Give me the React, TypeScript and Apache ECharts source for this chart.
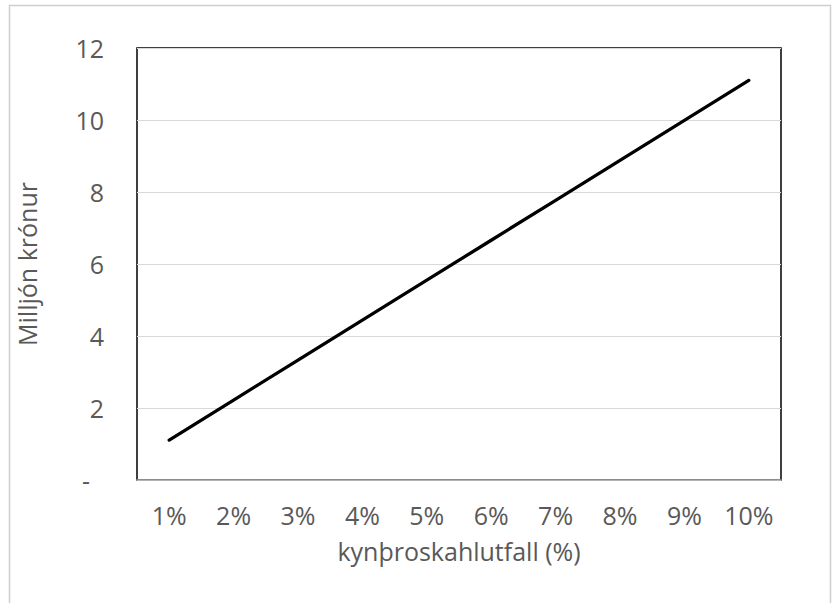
import React, { useEffect, useRef } from "react";
import * as echarts from "echarts";

const categories = ["1%", "2%", "3%", "4%", "5%", "6%", "7%", "8%", "9%", "10%"];
const values = [1.11, 2.22, 3.33, 4.44, 5.55, 6.66, 7.77, 8.88, 9.99, 11.1];
const xName = "kynþroskahlutfall (%)";
const yName = "Milljón krónur";

const FONT = "Open Sans";
const TEXT = "#595959";
const FS = 25;

export default function App() {
  const ref = useRef<HTMLDivElement>(null);
  useEffect(() => {
    if (!ref.current) return;
    const chart = echarts.init(ref.current, null, { renderer: "svg" });
    chart.setOption({
      animation: false,
      backgroundColor: "#ffffff",
      graphic: [
        {
          type: "rect",
          shape: { x: 9.5, y: 5.5, width: 821, height: 600 },
          style: { fill: "none", stroke: "#cfcfcf", lineWidth: 1.5 },
          silent: true,
        },
      ],
      grid: {
        left: 137,
        top: 48,
        right: 51,
        bottom: 123,
        show: true,
        borderColor: "#000000",
        borderWidth: 1.5,
        backgroundColor: "transparent",
      },
      xAxis: {
        type: "category",
        data: categories,
        boundaryGap: true,
        name: xName,
        nameLocation: "middle",
        nameGap: 58,
        nameTextStyle: { color: TEXT, fontFamily: FONT, fontSize: FS },
        axisLine: { show: true, lineStyle: { color: "#a6a6a6", width: 1.5 } },
        axisTick: { show: false },
        axisLabel: { color: TEXT, fontFamily: FONT, fontSize: FS, margin: 22 },
        splitLine: { show: false },
      },
      yAxis: {
        type: "value",
        min: 0,
        max: 12,
        interval: 2,
        name: yName,
        nameLocation: "middle",
        nameGap: 98,
        nameTextStyle: { color: TEXT, fontFamily: FONT, fontSize: FS },
        axisLine: { show: false },
        axisTick: { show: false },
        axisLabel: {
          color: TEXT,
          fontFamily: FONT,
          fontSize: FS,
          margin: 33,
          formatter: (v: number) => (v === 0 ? "{d|-}" : String(v)),
          rich: {
            d: { color: TEXT, fontFamily: FONT, fontSize: FS, padding: [0, 14, 0, 0] },
          },
        },
        splitLine: { show: true, lineStyle: { color: "#d9d9d9", width: 1 } },
      },
      series: [
        {
          type: "line",
          data: values,
          showSymbol: false,
          symbol: "none",
          lineStyle: { color: "#000000", width: 3.3, cap: "round" },
        },
      ],
    });
    return () => chart.dispose();
  }, []);
  return (
    <div
      ref={ref}
      style={{ position: "absolute", left: 0, top: 0, width: 832, height: 603 }}
    />
  );
}
